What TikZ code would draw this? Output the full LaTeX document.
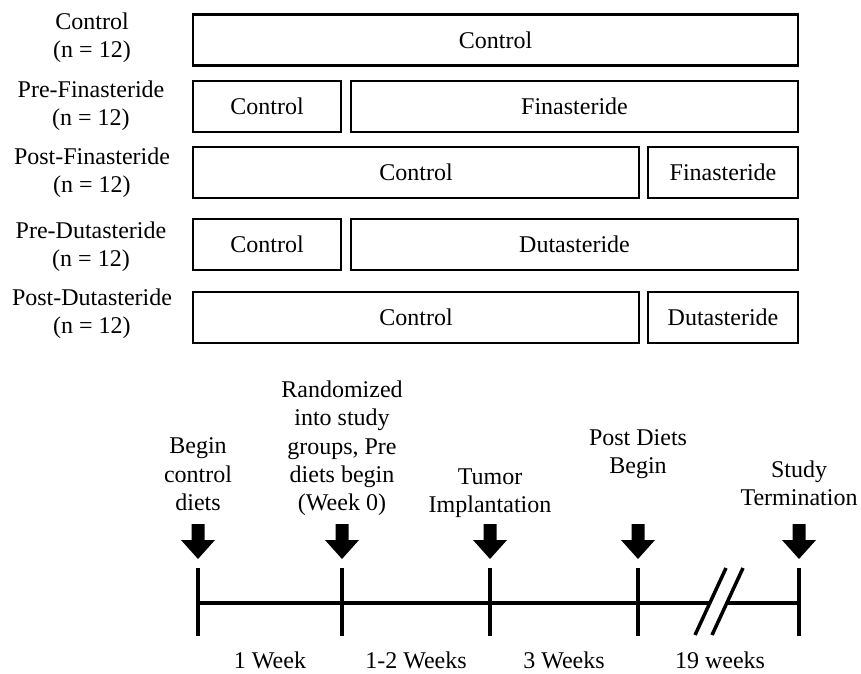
\documentclass[tikz,border=0pt]{standalone}
\usepackage{fontspec}
\setmainfont{Liberation Serif}
\tikzset{
  period/.style={draw, line width=2.5pt, minimum height=51pt, inner sep=0pt},
  lbl/.style={align=center, inner sep=0pt},
  axis/.style={line width=4pt},
}
\begin{document}
\begin{tikzpicture}[x=1pt,y=-1pt,font=\fontsize{24}{28.3}\selectfont]
  \useasboundingbox (0,0) rectangle (861,673);
  % study groups
  \node[lbl] (g1) at (92,38) {Control\\(n = 12)};
  \node[lbl] (g2) at (91,106) {Pre-Finasteride\\(n = 12)};
  \node[lbl] (g3) at (92,173) {Post-Finasteride\\(n = 12)};
  \node[lbl] (g4) at (91,247) {Pre-Dutasteride\\(n = 12)};
  \node[lbl] (g5) at (92,314) {Post-Dutasteride\\(n = 12)};
  % diets
  \node[period, minimum width=605pt] (c1) at (495.5,40) {Control};
  \node[period, minimum width=148pt] (c2) at (267,106.5) {Control};
  \node[period, minimum width=447pt] (f2) at (574.5,106.5) {Finasteride};
  \node[period, minimum width=446pt] (c3) at (416,172.5) {Control};
  \node[period, minimum width=150pt] (f3) at (723,172.5) {Finasteride};
  \node[period, minimum width=148pt] (c4) at (267,244.5) {Control};
  \node[period, minimum width=447pt] (d4) at (574.5,244.5) {Dutasteride};
  \node[period, minimum width=446pt] (c5) at (416,317.5) {Control};
  \node[period, minimum width=150pt] (d5) at (723,317.5) {Dutasteride};
  % timeline
  \coordinate (t1) at (198,603);
  \coordinate (t2) at (342,603);
  \coordinate (t3) at (490,603);
  \coordinate (t4) at (638,603);
  \coordinate (t5) at (799,603);
  \coordinate (b1) at (710,603);
  \coordinate (b2) at (727,603);
  \draw[axis] (t1) -- (t2) -- (t3) -- (t4) -- (b1);
  \draw[axis] (b2) -- (t5);
  \draw[line width=3.5pt] (695,635) -- (726,568);
  \draw[line width=3.5pt] (712,635) -- (743,568);
  \foreach \t in {t1,t2,t3,t4,t5} {
    \draw[axis] ([yshift=35pt]\t) -- ([yshift=-33pt]\t);
    \begin{scope}[shift={(\t)}]
      \fill (-6.5,-79) -- (6.5,-79) -- (6.5,-63) -- (17,-63) -- (0,-44)
        -- (-17,-63) -- (-6.5,-63) -- cycle;
    \end{scope}
  }
  % events
  \node[lbl, anchor=south] (e1) at (198,511) {Begin\\control\\diets};
  \node[lbl, anchor=south] (e2) at (342,516) {Randomized\\into study\\groups, Pre\\diets begin\\(Week 0)};
  \node[lbl, anchor=south] (e3) at (490,518) {Tumor\\Implantation};
  \node[lbl, anchor=south] (e4) at (638,479) {Post Diets\\Begin};
  \node[lbl, anchor=south] (e5) at (799,506) {Study\\Termination};
  % durations
  \node[anchor=base] (w1) at (270,668) {1 Week};
  \node[anchor=base] (w2) at (416,668) {1-2 Weeks};
  \node[anchor=base] (w3) at (564,668) {3 Weeks};
  \node[anchor=base] (w4) at (720,668) {19 weeks};
\end{tikzpicture}
\end{document}
